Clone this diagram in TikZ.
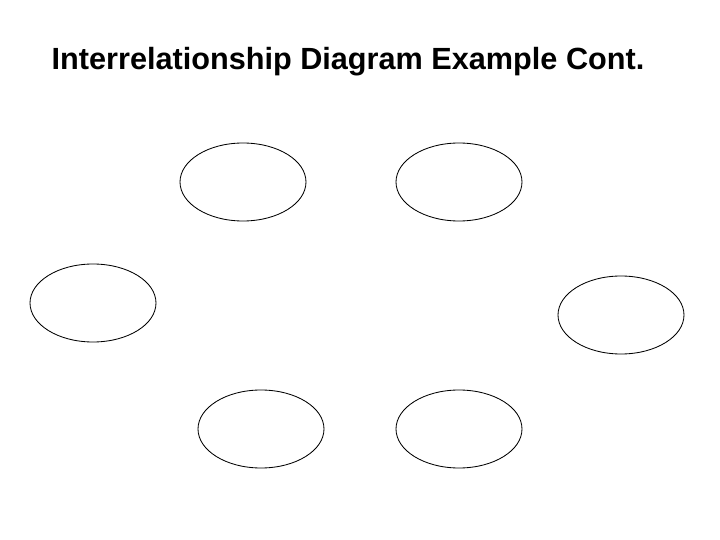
\documentclass[tikz,border=0pt]{standalone}
\usepackage{fontspec}
\setmainfont{Liberation Sans}
\usetikzlibrary{shapes.geometric}

\begin{document}
\begin{tikzpicture}
			% Fix the frame of the slide
			\useasboundingbox (0,0) rectangle (18,13.5);

			% Title of the slide
			\node[font=\fontsize{21.8}{26}\selectfont\bfseries] (title) at (8.7,11.95) {Interrelationship Diagram Example Cont.};

			% Place the empty ellipses
			\foreach \x/\y/\n in {6.075/8.95/1, 11.475/8.95/2, 2.325/5.925/3, 15.525/5.625/4, 6.525/2.775/5, 11.475/2.775/6}
				{\draw (\x,\y) node[ellipse, draw, line width=0.6pt, inner sep=0pt, minimum width=3.15cm, minimum height=1.95cm] (e\n) {};}
		\end{tikzpicture}
\end{document}
